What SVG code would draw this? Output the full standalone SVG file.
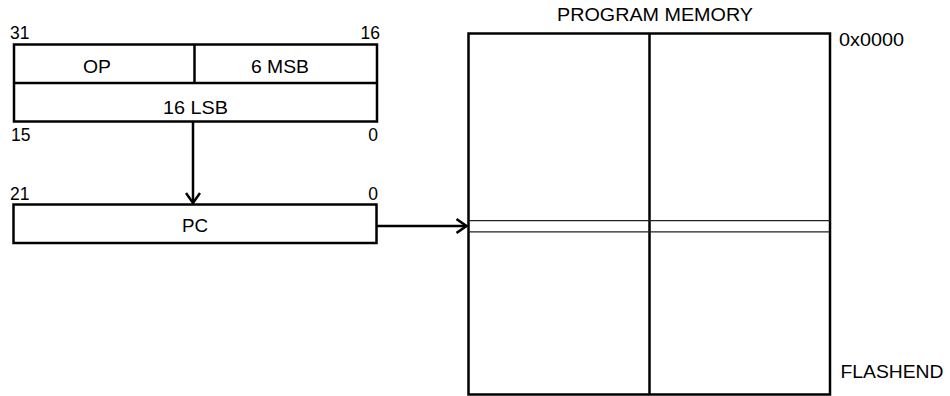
<svg xmlns="http://www.w3.org/2000/svg" width="950" height="396" viewBox="0 0 950 396">
<style>
text{font-family:"Liberation Sans",Arial,sans-serif;font-size:17.5px;fill:#000}
.b{fill:#fff;stroke:#000;stroke-width:2.5}
.l{stroke:#000;stroke-width:2.5;fill:none}
.t{stroke:#222;stroke-width:1.3;fill:none}
.m{text-anchor:middle}
.e{text-anchor:end}
</style>
<defs>
<marker id="ah" viewBox="0 0 12 16" refX="11" refY="8" markerWidth="12" markerHeight="16" markerUnits="userSpaceOnUse" orient="auto">
<path d="M1,1 L11,8 L1,15" fill="none" stroke="#000" stroke-width="2.5"/>
</marker>
</defs>
<g id="instruction">
<rect class="b" x="14" y="44.5" width="363" height="77"/>
<line class="l" x1="14" y1="83" x2="377" y2="83"/>
<line class="l" x1="194.5" y1="44.5" x2="194.5" y2="83"/>
<text class="m" x="97" y="73" textLength="28" lengthAdjust="spacingAndGlyphs">OP</text>
<text class="m" x="280" y="73" textLength="58" lengthAdjust="spacingAndGlyphs">6 MSB</text>
<text class="m" x="195.5" y="114" textLength="65" lengthAdjust="spacingAndGlyphs">16 LSB</text>
<text x="10" y="39">31</text>
<text class="e" x="380" y="39">16</text>
<text x="11" y="141">15</text>
<text class="e" x="378" y="141">0</text>
</g>
<g id="pc">
<rect class="b" x="13.5" y="204.5" width="363" height="38.5"/>
<text class="m" x="195" y="232" textLength="26" lengthAdjust="spacingAndGlyphs">PC</text>
<text x="10" y="200">21</text>
<text class="e" x="378" y="200">0</text>
</g>
<g id="memory">
<rect class="b" x="468.5" y="33.5" width="361.5" height="361"/>
<line class="l" x1="649.5" y1="33.5" x2="649.5" y2="394.5"/>
<line class="t" x1="468.5" y1="220.7" x2="830" y2="220.7"/>
<line class="t" x1="468.5" y1="231.8" x2="830" y2="231.8"/>
<text class="m" x="655" y="21" textLength="196" lengthAdjust="spacingAndGlyphs">PROGRAM MEMORY</text>
<text x="839" y="46" textLength="65" lengthAdjust="spacingAndGlyphs">0x0000</text>
<text x="840.5" y="377.5" textLength="103" lengthAdjust="spacingAndGlyphs">FLASHEND</text>
</g>
<g id="connectors">
<line class="l" x1="193" y1="121.5" x2="193" y2="203" marker-end="url(#ah)"/>
<line class="l" x1="376.5" y1="226" x2="466.5" y2="226" marker-end="url(#ah)"/>
</g>
</svg>
